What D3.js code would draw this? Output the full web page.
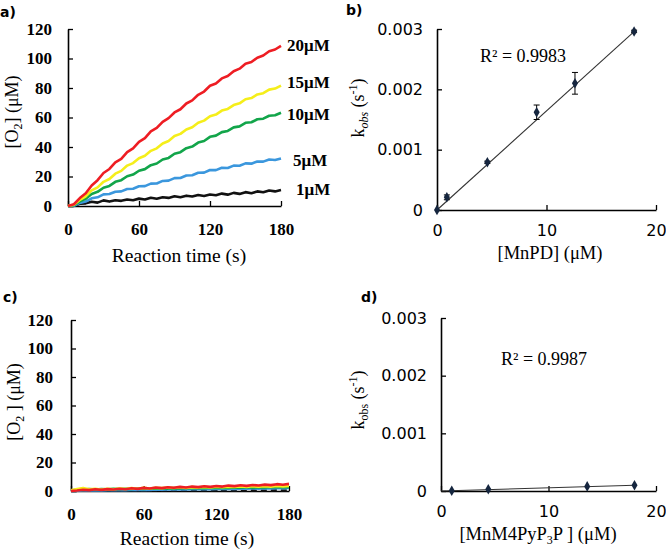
<!DOCTYPE html>
<html><head><meta charset="utf-8">
<script src="https://cdn.jsdelivr.net/npm/d3@7"></script>
<style>
html,body{margin:0;padding:0;background:#fff;}
svg{display:block;}
.serif{font-family:"Liberation Serif","Times New Roman",serif;}
.sans{font-family:"DejaVu Sans",sans-serif;}
</style>
</head><body>
<svg id="chart" width="666" height="549"></svg>
<script>
// ---------- DATA ----------
const times = [0,5,10,15,20,25,30,35,40,45,50,55,60,65,70,75,80,85,90,95,100,105,110,115,120,125,130,135,140,145,150,155,160,165,170,175,180];
const seriesNames = ["20μM","15μM","10μM","5μM","1μM"];
const seriesColors = ["#ee1d23","#f5ee1a","#12a54a","#3b97dd","#111111"];
// panel a (MnPD)
const aRed    = [0,1.2,5.4,8.6,13.9,17.5,22.4,25.1,29.6,32.0,36.5,39.1,43.5,46.0,50.6,52.9,57.1,59.6,63.4,65.6,69.5,71.6,75.4,77.6,81.5,83.1,86.5,88.1,91.4,93.1,96.4,97.6,100.5,102.0,104.9,106.1,108.6];
const aYellow = [0,0.8,4.2,6.6,10.6,12.6,16.4,18.3,21.9,23.8,27.4,29.1,32.4,34.1,37.4,39.1,42.4,44.1,47.4,48.9,51.9,53.4,56.4,57.9,60.9,62.0,64.7,65.8,68.4,69.6,72.4,73.2,75.6,76.5,78.9,79.6,81.6];
const aGreen  = [0,0.5,3.1,4.9,8.2,9.6,12.4,13.6,16.4,17.5,20.2,21.3,23.9,25.0,27.7,28.8,31.5,32.6,35.4,36.5,39.2,40.3,43.0,44.1,46.9,47.7,50.1,50.9,53.3,54.0,56.4,56.8,58.8,59.2,61.2,61.5,63.2];
const aBlue   = [0,0.2,2.1,3.0,5.2,5.9,7.9,8.1,9.7,9.9,11.5,11.7,13.4,13.5,15.2,15.3,17.0,17.2,18.9,19.0,20.7,20.8,22.5,22.6,24.4,24.3,25.9,25.8,27.4,27.3,28.9,28.7,30.2,30.1,31.5,31.2,32.2];
const aBlack  = [0,0.1,1.5,1.8,2.9,2.3,3.8,3.0,3.9,3.5,4.4,3.9,5.0,4.4,5.6,4.9,5.9,5.5,6.6,5.9,7.0,6.4,7.4,6.8,7.8,7.3,8.4,7.7,8.9,8.2,9.4,8.7,9.9,9.3,10.5,9.9,10.8];
// panel c (MnM4PyP3P)
const cRed    = [0,0.3,0.9,0.6,1.2,0.8,1.3,1.0,1.6,1.2,1.9,1.5,2.2,1.8,2.4,2.0,2.6,2.3,2.9,2.5,3.1,2.7,3.3,2.9,3.5,3.1,3.8,3.4,4.0,3.6,4.2,3.9,4.5,4.1,4.8,4.4,5.0];
const cYellow = [0.5,1.4,2.1,1.2,1.6,1.1,1.5,1.2,1.8,1.4,2.0,1.6,2.2,1.8,2.3,2.0,2.4,2.1,2.6,2.2,2.7,2.4,2.9,2.5,3.0,2.7,3.1,2.8,3.2,2.9,3.3,3.0,3.4,3.1,3.5,3.2,3.6];
const cGreen  = [0.3,1.0,0.8,1.3,1.1,1.4,1.2,1.5,1.3,1.6,1.4,1.7,1.5,1.8,1.6,1.9,1.7,2.0,1.8,2.1,1.9,2.2,2.0,2.3,2.1,2.4,2.2,2.5,2.3,2.6,2.4,2.7,2.5,2.8,2.6,2.9,2.7];
const cBlue   = [0,0.2,0.4,0.3,0.5,0.4,0.6,0.5,0.7,0.6,0.8,0.7,0.9,0.8,1.0,0.9,1.1,1.0,1.2,1.1,1.3,1.2,1.4,1.3,1.5,1.4,1.6,1.5,1.7,1.6,1.8,1.7,1.9,1.8,2.0,1.9,2.1];
const cBlack  = [0,0.1,0.3,0.2,0.4,0.2,0.5,0.3,0.4,0.3,0.5,0.2,0.4,0.3,0.5,0.3,0.4,0.2,0.4,0.3,0.5,0.3,0.4,0.3,0.5,0.3,0.4,0.2,0.4,0.3,0.5,0.3,0.4,0.3,0.5,0.3,0.4];
const timeTicks = [0,60,120,180];
const o2Ticks = [0,20,40,60,80,100,120];
// panel b (MnPD kobs)
const bConc = [0,0.9,4.6,9.1,12.6,18.0];
const bKobs = [0,0.00021,0.00079,0.00162,0.00210,0.00296];
const bErr  = [0,0.00004,0.00002,0.00012,0.00018,0.00002];
const bFitX = [0,18.2];
const bFitY = [0,0.00299];
const bR2 = "R² = 0.9983";
// panel d (MnM4PyP3P kobs)
const dConc = [1.0,4.4,13.6,18.0];
const dKobs = [0.000005,0.00003,0.00008,0.0001];
const dFitX = [0,18.0];
const dFitY = [0,0.0001];
const dR2 = "R² = 0.9987";
const concTicks = [0,10,20];
const kTicks = [0,0.001,0.002,0.003];
const kTickLabels = ["0","0.001","0.002","0.003"];

// ---------- DRAW ----------
const svg = d3.select("#chart");

function styleAxis(g, cls, fs){
  g.select(".domain").attr("stroke","#000").attr("stroke-width",1.6);
  g.selectAll(".tick line").attr("stroke","#000").attr("stroke-width",1.3);
  g.selectAll(".tick text").attr("class",cls).attr("font-size",fs).attr("fill","#000");
}

function kineticPanel(opt){
  const x = d3.scaleLinear().domain([0,180]).range(opt.xr);
  const y = d3.scaleLinear().domain([0,120]).range(opt.yr);
  const gx = svg.append("g").attr("transform",`translate(0,${opt.yr[0]})`)
    .call(d3.axisBottom(x).tickValues(timeTicks).tickSizeInner(-5).tickSizeOuter(0).tickPadding(17).tickFormat(d3.format("d")));
  styleAxis(gx,"serif","17px");
  gx.selectAll(".tick text").attr("font-weight","bold");
  const gy = svg.append("g").attr("transform",`translate(${opt.xr[0]},0)`)
    .call(d3.axisLeft(y).tickValues(o2Ticks).tickSizeInner(-5).tickSizeOuter(0).tickPadding(opt.yPad).tickFormat(d3.format("d")));
  styleAxis(gy,"serif","17px");
  gy.selectAll(".tick text").attr("font-weight","bold");
  const line = d3.line().x((d,i)=>x(times[i])).y(d=>y(d)).curve(d3.curveLinear);
  opt.series.forEach((s,k)=>{
    svg.append("path").datum(s.v).attr("d",line).attr("fill","none")
      .attr("stroke",s.c).attr("stroke-width",2.6).attr("stroke-linejoin","round")
      .attr("stroke-dasharray",s.dash||null);
  });
  // axis titles
  svg.append("text").attr("class","serif").attr("font-size","19.5px").attr("text-anchor","middle")
    .attr("x",opt.xTitle[0]).attr("y",opt.xTitle[1]).text("Reaction time (s)");
  const yt = svg.append("text").attr("class","serif").attr("font-size","18px").attr("text-anchor","middle")
    .attr("transform",`translate(${opt.yTitle[0]},${opt.yTitle[1]}) rotate(-90)`);
  yt.append("tspan").text("[O");
  yt.append("tspan").attr("font-size","12px").attr("dy",4).text("2");
  yt.append("tspan").attr("dy",-4).text(opt.yGap + "(μM)");
  return {x,y};
}

function ratePanel(opt){
  const x = d3.scaleLinear().domain([0,20]).range(opt.xr);
  const y = d3.scaleLinear().domain([0,0.003]).range(opt.yr);
  const gx = svg.append("g").attr("transform",`translate(0,${opt.yr[0]})`)
    .call(d3.axisBottom(x).tickValues(concTicks).tickSizeInner(-5).tickSizeOuter(0).tickPadding(15));
  styleAxis(gx,"sans","16px");
  const gy = svg.append("g").attr("transform",`translate(${opt.xr[0]},0)`)
    .call(d3.axisLeft(y).tickValues(kTicks).tickSizeInner(-5).tickSizeOuter(0).tickPadding(14).tickFormat((d,i)=>kTickLabels[i]));
  styleAxis(gy,"sans","16px");
  // fit line
  svg.append("line").attr("x1",x(opt.fitX[0])).attr("y1",y(opt.fitY[0]))
    .attr("x2",x(opt.fitX[1])).attr("y2",y(opt.fitY[1]))
    .attr("stroke","#333").attr("stroke-width",1.1);
  // error bars
  if(opt.err){
    opt.conc.forEach((c,i)=>{
      const e = opt.err[i]; if(!e) return;
      const cx = x(c);
      svg.append("line").attr("x1",cx).attr("x2",cx).attr("y1",y(opt.k[i]-e)).attr("y2",y(opt.k[i]+e)).attr("stroke","#000").attr("stroke-width",1);
      [opt.k[i]-e, opt.k[i]+e].forEach(v=>{
        svg.append("line").attr("x1",cx-3).attr("x2",cx+3).attr("y1",y(v)).attr("y2",y(v)).attr("stroke","#000").attr("stroke-width",1);
      });
    });
  }
  const sym = d3.symbol().type(d3.symbolDiamond).size(32);
  svg.selectAll(null).data(opt.conc).enter().append("path")
    .attr("d",sym).attr("transform",(d,i)=>`translate(${x(d)},${y(opt.k[i])})`)
    .attr("fill","#16263f");
  svg.append("text").attr("class","serif").attr("font-size","18px")
    .attr("x",opt.r2[0]).attr("y",opt.r2[1]).text(opt.r2text);
  // x title
  const xt = svg.append("text").attr("class","serif").attr("font-size","18.5px").attr("text-anchor","middle")
    .attr("x",opt.xTitle[0]).attr("y",opt.xTitle[1]);
  opt.xParts.forEach(p=>{
    const t = xt.append("tspan").text(p.t);
    if(p.sub){ t.attr("font-size","12px").attr("dy",4); }
    if(p.back){ t.attr("dy",-4); }
  });
  // y title
  const yt = svg.append("text").attr("class","serif").attr("font-size","18px").attr("text-anchor","middle")
    .attr("transform",`translate(${opt.yTitle[0]},${opt.yTitle[1]}) rotate(-90)`);
  yt.append("tspan").text("k");
  yt.append("tspan").attr("font-size","12px").attr("dy",4).attr("font-style",opt.italicSub?"italic":null).text("obs");
  yt.append("tspan").attr("dy",-4).text(" (s");
  yt.append("tspan").attr("font-size","12px").attr("dy",-7).text("-1");
  yt.append("tspan").attr("dy",7).text(")");
}

// Panel a
const pa = kineticPanel({
  xr:[68,281], yr:[206,29], yPad:16, xTitle:[179,262], yTitle:[18,112], yGap:"]  ",
  series:[
    {v:aBlack,c:seriesColors[4]},{v:aBlue,c:seriesColors[3]},{v:aGreen,c:seriesColors[2]},
    {v:aYellow,c:seriesColors[1]},{v:aRed,c:seriesColors[0]}
  ]
});
const aLast = [aRed, aYellow, aGreen, aBlue, aBlack].map(s=>s[s.length-1]);
const labelDx = [0,0,0,6,9];
const labelDy = [5,2,7,7,5];
seriesNames.forEach((n,i)=>{
  svg.append("text").attr("class","serif").attr("font-size","17px").attr("font-weight","bold")
    .attr("x",287+labelDx[i]).attr("y",pa.y(aLast[i])+labelDy[i]).text(n);
});

// Panel c
kineticPanel({
  xr:[71,289], yr:[491,320], yPad:18, xTitle:[187,545], yTitle:[20,402], yGap:" ] ",
  series:[
    {v:cBlack,c:seriesColors[4],dash:"6,4"},{v:cBlue,c:seriesColors[3]},{v:cGreen,c:seriesColors[2]},
    {v:cYellow,c:seriesColors[1]},{v:cRed,c:seriesColors[0]}
  ]
});

// Panel b
ratePanel({
  xr:[437,656], yr:[210,29], conc:bConc, k:bKobs, err:bErr, fitX:bFitX, fitY:bFitY,
  r2:[480,62], r2text:bR2, xTitle:[550,259], yTitle:[364,108], italicSub:true,
  xParts:[{t:"[MnPD] (μM)"}]
});

// Panel d
ratePanel({
  xr:[441,656], yr:[491,318], conc:dConc, k:dKobs, err:null, fitX:dFitX, fitY:dFitY,
  r2:[501,365], r2text:dR2, xTitle:[538,540], yTitle:[364,400], italicSub:false,
  xParts:[{t:"[MnM4PyP"},{t:"3",sub:true},{t:"P ] (μM)",back:true}]
});

// panel letters
[["a)",0,17],["b)",346,15],["c)",3,302],["d)",361,302]].forEach(p=>{
  svg.append("text").attr("class","sans").attr("font-size","14px").attr("font-weight","bold")
    .attr("x",p[1]).attr("y",p[2]).text(p[0]);
});
</script>
</body></html>
